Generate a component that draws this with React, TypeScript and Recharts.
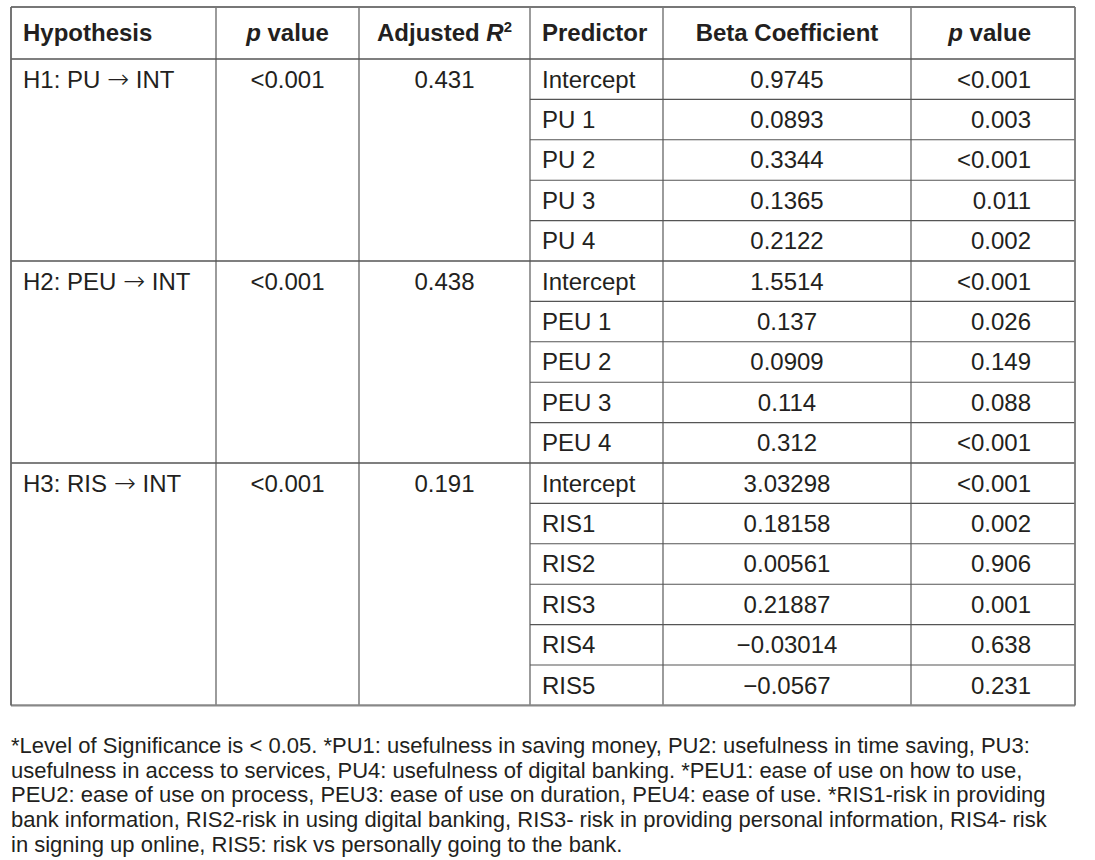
import { ReferenceLine, Scatter, ScatterChart, XAxis, YAxis } from "recharts";

// table content
const hypotheses = ["H1: PU → INT", "H2: PEU → INT", "H3: RIS → INT"];
const modelP = ["<0.001", "<0.001", "<0.001"];
const adjustedR2 = ["0.431", "0.438", "0.191"];
const predictors = [
  ["Intercept", "PU 1", "PU 2", "PU 3", "PU 4"],
  ["Intercept", "PEU 1", "PEU 2", "PEU 3", "PEU 4"],
  ["Intercept", "RIS1", "RIS2", "RIS3", "RIS4", "RIS5"]
];
const betas = [
  ["0.9745", "0.0893", "0.3344", "0.1365", "0.2122"],
  ["1.5514", "0.137", "0.0909", "0.114", "0.312"],
  ["3.03298", "0.18158", "0.00561", "0.21887", "−0.03014", "−0.0567"]
];
const predictorP = [
  ["<0.001", "0.003", "<0.001", "0.011", "0.002"],
  ["<0.001", "0.026", "0.149", "0.088", "<0.001"],
  ["<0.001", "0.002", "0.906", "0.001", "0.638", "0.231"]
];

type Part = { t: string; italic?: boolean; sup?: boolean; font?: string };

const headers: Part[][] = [
  [{ t: "Hypothesis" }],
  [{ t: "p", italic: true }, { t: " value" }],
  [{ t: "Adjusted " }, { t: "R", italic: true }, { t: "2", sup: true }],
  [{ t: "Predictor" }],
  [{ t: "Beta Coefficient" }],
  [{ t: "p", italic: true }, { t: " value" }]
];

const notes = [
  "*Level of Significance is < 0.05. *PU1: usefulness in saving money, PU2: usefulness in time saving, PU3:",
  "usefulness in access to services, PU4: usefulness of digital banking. *PEU1: ease of use on how to use,",
  "PEU2: ease of use on process, PEU3: ease of use on duration, PEU4: ease of use. *RIS1-risk in providing",
  "bank information, RIS2-risk in using digital banking, RIS3- risk in providing personal information, RIS4- risk",
  "in signing up online, RIS5: risk vs personally going to the bank."
];

// layout
const W = 1095;
const H = 860;
const COLS = [11, 216, 359, 530, 663, 911, 1075];
const TABLE_TOP = 7;
const BODY_TOP = 59;
const ROW_H = 40.4;
const FONT = '"Liberation Sans", Arial, Helvetica, sans-serif';
const ARROW_FONT = '"DejaVu Sans", sans-serif';
const INK = "#231f20";

// y axis is in row units: body row k spans [k, k + 1]
const toRow = (px: number) => (px - BODY_TOP) / ROW_H;

type Anchor = "start" | "middle" | "end";
type Cell = { x: number; y: number; parts: Part[]; anchor: Anchor; bold?: boolean; size: number };

const colAnchor: Anchor[] = ["start", "middle", "middle", "start", "middle", "end"];
const colX = (c: number) =>
  colAnchor[c] === "start" ? COLS[c] + 12 : colAnchor[c] === "end" ? COLS[c + 1] - 44 : (COLS[c] + COLS[c + 1]) / 2;

// split the arrow out so it can use a font with a long arrow glyph
const withArrow = (s: string): Part[] =>
  s.split("→").flatMap((piece, i) => (i === 0 ? [{ t: piece }] : [{ t: "→", font: ARROW_FONT }, { t: piece }]));

const cells: Cell[] = [];
headers.forEach((parts, c) => {
  cells.push({ x: colX(c), y: toRow((TABLE_TOP + BODY_TOP) / 2), parts, anchor: colAnchor[c], bold: true, size: 24 });
});

const groupStart: number[] = [];
let rowCursor = 0;
predictors.forEach((group, g) => {
  groupStart.push(rowCursor);
  const first = rowCursor + 0.5;
  cells.push({ x: colX(0), y: first, parts: withArrow(hypotheses[g]), anchor: "start", size: 24 });
  cells.push({ x: colX(1), y: first, parts: [{ t: modelP[g] }], anchor: "middle", size: 24 });
  cells.push({ x: colX(2), y: first, parts: [{ t: adjustedR2[g] }], anchor: "middle", size: 24 });
  group.forEach((name, i) => {
    const y = rowCursor + i + 0.5;
    cells.push({ x: colX(3), y, parts: [{ t: name }], anchor: "start", size: 24 });
    cells.push({ x: colX(4), y, parts: [{ t: betas[g][i] }], anchor: "middle", size: 24 });
    cells.push({ x: colX(5), y, parts: [{ t: predictorP[g][i] }], anchor: "end", size: 24 });
  });
  rowCursor += group.length;
});
const totalRows = rowCursor;

notes.forEach((line, i) => {
  cells.push({ x: COLS[0], y: toRow(745 + 24.8 * i), parts: [{ t: line }], anchor: "start", size: 22 });
});

const renderCell = (props: any) => {
  const { cx, cy, payload } = props;
  const c = payload as Cell;
  return (
    <text
      x={cx}
      y={cy}
      dy="0.35em"
      textAnchor={c.anchor}
      fontFamily={FONT}
      fontSize={c.size}
      fontWeight={c.bold ? 700 : 400}
      fill={INK}
    >
      {c.parts.map((p, i) => (
        <tspan
          key={i}
          fontFamily={p.font}
          fontWeight={p.font ? 200 : undefined}
          fontStyle={p.italic ? "italic" : undefined}
          fontSize={p.sup ? c.size * 0.62 : p.font ? c.size * 1.1 : undefined}
          dy={p.sup ? -9 : undefined}
        >
          {p.t}
        </tspan>
      ))}
    </text>
  );
};

const topRow = toRow(TABLE_TOP);
const innerRows: number[] = [];
for (let r = 1; r < totalRows; r++) if (!groupStart.includes(r)) innerRows.push(r);

export default function App() {
  return (
    <div style={{ position: "absolute", left: 0, top: 0, background: "#fff" }}>
      <ScatterChart width={W} height={H} margin={{ top: 0, right: 0, bottom: 0, left: 0 }}>
        <XAxis type="number" dataKey="x" domain={[0, W]} allowDataOverflow hide />
        <YAxis type="number" dataKey="y" domain={[toRow(0), toRow(H)]} allowDataOverflow reversed hide />
        {/* inner column rules */}
        {COLS.slice(1, -1).map((x) => (
          <ReferenceLine
            key={`v${x}`}
            segment={[{ x, y: topRow }, { x, y: totalRows }]}
            stroke="#666"
            strokeWidth={1.3}
            ifOverflow="visible"
          />
        ))}
        {/* header rule and group separators */}
        {[0, ...groupStart.slice(1)].map((r) => (
          <ReferenceLine
            key={`g${r}`}
            segment={[{ x: COLS[0], y: r }, { x: COLS[6], y: r }]}
            stroke="#555"
            strokeWidth={1.3}
            ifOverflow="visible"
          />
        ))}
        {innerRows.map((r) => (
          <ReferenceLine
            key={`r${r}`}
            segment={[{ x: COLS[3], y: r }, { x: COLS[6], y: r }]}
            stroke="#555"
            strokeWidth={1.1}
            ifOverflow="visible"
          />
        ))}
        {/* outer border */}
        <ReferenceLine segment={[{ x: COLS[0], y: topRow }, { x: COLS[6], y: topRow }]} stroke="#777" strokeWidth={1.8} ifOverflow="visible" />
        <ReferenceLine segment={[{ x: COLS[0], y: totalRows }, { x: COLS[6], y: totalRows }]} stroke="#888" strokeWidth={2.4} ifOverflow="visible" />
        <ReferenceLine segment={[{ x: COLS[0], y: topRow }, { x: COLS[0], y: totalRows }]} stroke="#666" strokeWidth={1.8} ifOverflow="visible" />
        <ReferenceLine segment={[{ x: COLS[6], y: topRow }, { x: COLS[6], y: totalRows }]} stroke="#777" strokeWidth={1.8} ifOverflow="visible" />
        <Scatter data={cells} shape={renderCell} isAnimationActive={false} />
      </ScatterChart>
    </div>
  );
}
